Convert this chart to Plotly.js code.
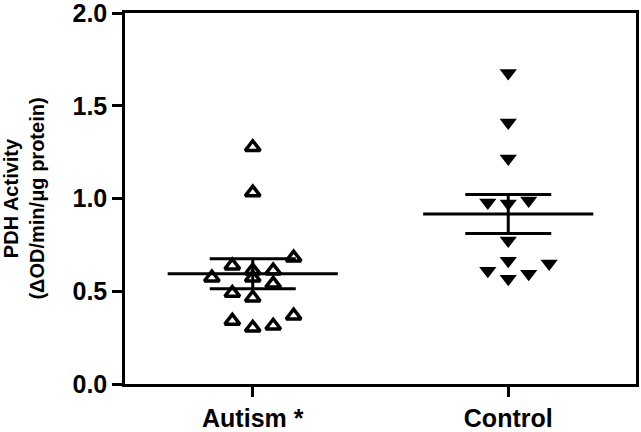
<!DOCTYPE html>
<html>
<head>
<meta charset="utf-8">
<script src="https://cdn.plot.ly/plotly-3.0.1.min.js"></script>
<style>
  html, body { margin: 0; padding: 0; background: #fff; }
  #plot { width: 641px; height: 432px; }
</style>
</head>
<body>
<div id="plot"></div>
<script>
// 组别
const groups = ['Autism *', 'Control'];

// 各组个体数据 (PDH 活性), 以及散点在组内的列号 (用于横向错开)
const autismValues = [1.276, 1.032, 0.681, 0.638, 0.611, 0.611, 0.573, 0.573, 0.54, 0.49, 0.465, 0.34, 0.303, 0.314, 0.368];
const autismCols   = [0, 0, 2, -1, 0, 1, -2, 0, 1, -1, 0, -1, 0, 1, 2];
const controlValues = [1.676, 1.41, 1.216, 0.978, 0.973, 0.989, 0.773, 0.665, 0.611, 0.568, 0.595, 0.649];
const controlCols   = [0, 0, 0, -1, 0, 1, 0, 0, -1, 0, 1, 2];

// 均值和标准误
const means = [0.594, 0.916];
const sems  = [0.081, 0.105];

const yTicks = [0, 0.5, 1.0, 1.5, 2.0];

function initPlot() {
    const spread = 0.08;    // 散点列间距 (x 轴单位)
    const halfMean = 0.333; // 均值横线半宽

    const autismTrace = {
        type: 'scatter',
        mode: 'markers',
        x: autismCols.map(c => 0 + c * spread),
        y: autismValues,
        marker: {
            symbol: 'triangle-up-open',
            size: 13,
            color: '#000',
            line: { color: '#000', width: 3.5 }
        },
        hoverinfo: 'y'
    };

    const controlTrace = {
        type: 'scatter',
        mode: 'markers',
        x: controlCols.map(c => 1 + c * spread),
        y: controlValues,
        marker: {
            symbol: 'triangle-down',
            size: 15,
            color: '#000',
            line: { width: 0 }
        },
        hoverinfo: 'y'
    };

    // 均值横线
    const meanTraces = means.map((m, i) => ({
        type: 'scatter',
        mode: 'lines',
        x: [i - halfMean, i + halfMean],
        y: [m, m],
        line: { color: '#000', width: 3 },
        hoverinfo: 'skip'
    }));

    // 标准误误差棒
    const semTrace = {
        type: 'scatter',
        mode: 'markers',
        x: [0, 1],
        y: means,
        marker: { size: 1, opacity: 0 },
        error_y: {
            type: 'data',
            array: sems,
            visible: true,
            color: '#000',
            thickness: 3,
            width: 43
        },
        hoverinfo: 'skip'
    };

    const layout = {
        width: 641,
        height: 432,
        margin: { l: 125, r: 5, t: 13, b: 48 },
        paper_bgcolor: '#fff',
        plot_bgcolor: '#fff',
        showlegend: false,
        font: { family: 'Arial, "Liberation Sans", sans-serif', color: '#000' },
        xaxis: {
            range: [-0.5, 1.5],
            tickvals: [0, 1],
            ticktext: groups,
            showgrid: false,
            zeroline: false,
            showline: true,
            mirror: true,
            linecolor: '#000',
            linewidth: 2.5,
            ticks: 'outside',
            ticklen: 10,
            tickwidth: 2.5,
            tickcolor: '#000',
            ticklabeloverflow: 'allow',
            tickfont: { size: 25, weight: 'bold', color: '#000' }
        },
        yaxis: {
            range: [0, 2],
            tickvals: yTicks,
            tickformat: '.1f',
            showgrid: false,
            zeroline: false,
            showline: true,
            mirror: true,
            linecolor: '#000',
            linewidth: 2.5,
            ticks: 'outside',
            ticklen: 10,
            tickwidth: 2.5,
            tickcolor: '#000',
            ticklabeloverflow: 'allow',
            tickfont: { size: 25, weight: 'bold', color: '#000' },
            title: {
                text: 'PDH Activity<br>(ΔOD/min/μg protein)',
                font: { size: 20, weight: 'bold', color: '#000' },
                standoff: 26
            }
        }
    };

    const config = { responsive: false, displayModeBar: false };

    Plotly.newPlot('plot', [...meanTraces, semTrace, autismTrace, controlTrace], layout, config);
}

document.addEventListener('DOMContentLoaded', initPlot);
</script>
</body>
</html>
